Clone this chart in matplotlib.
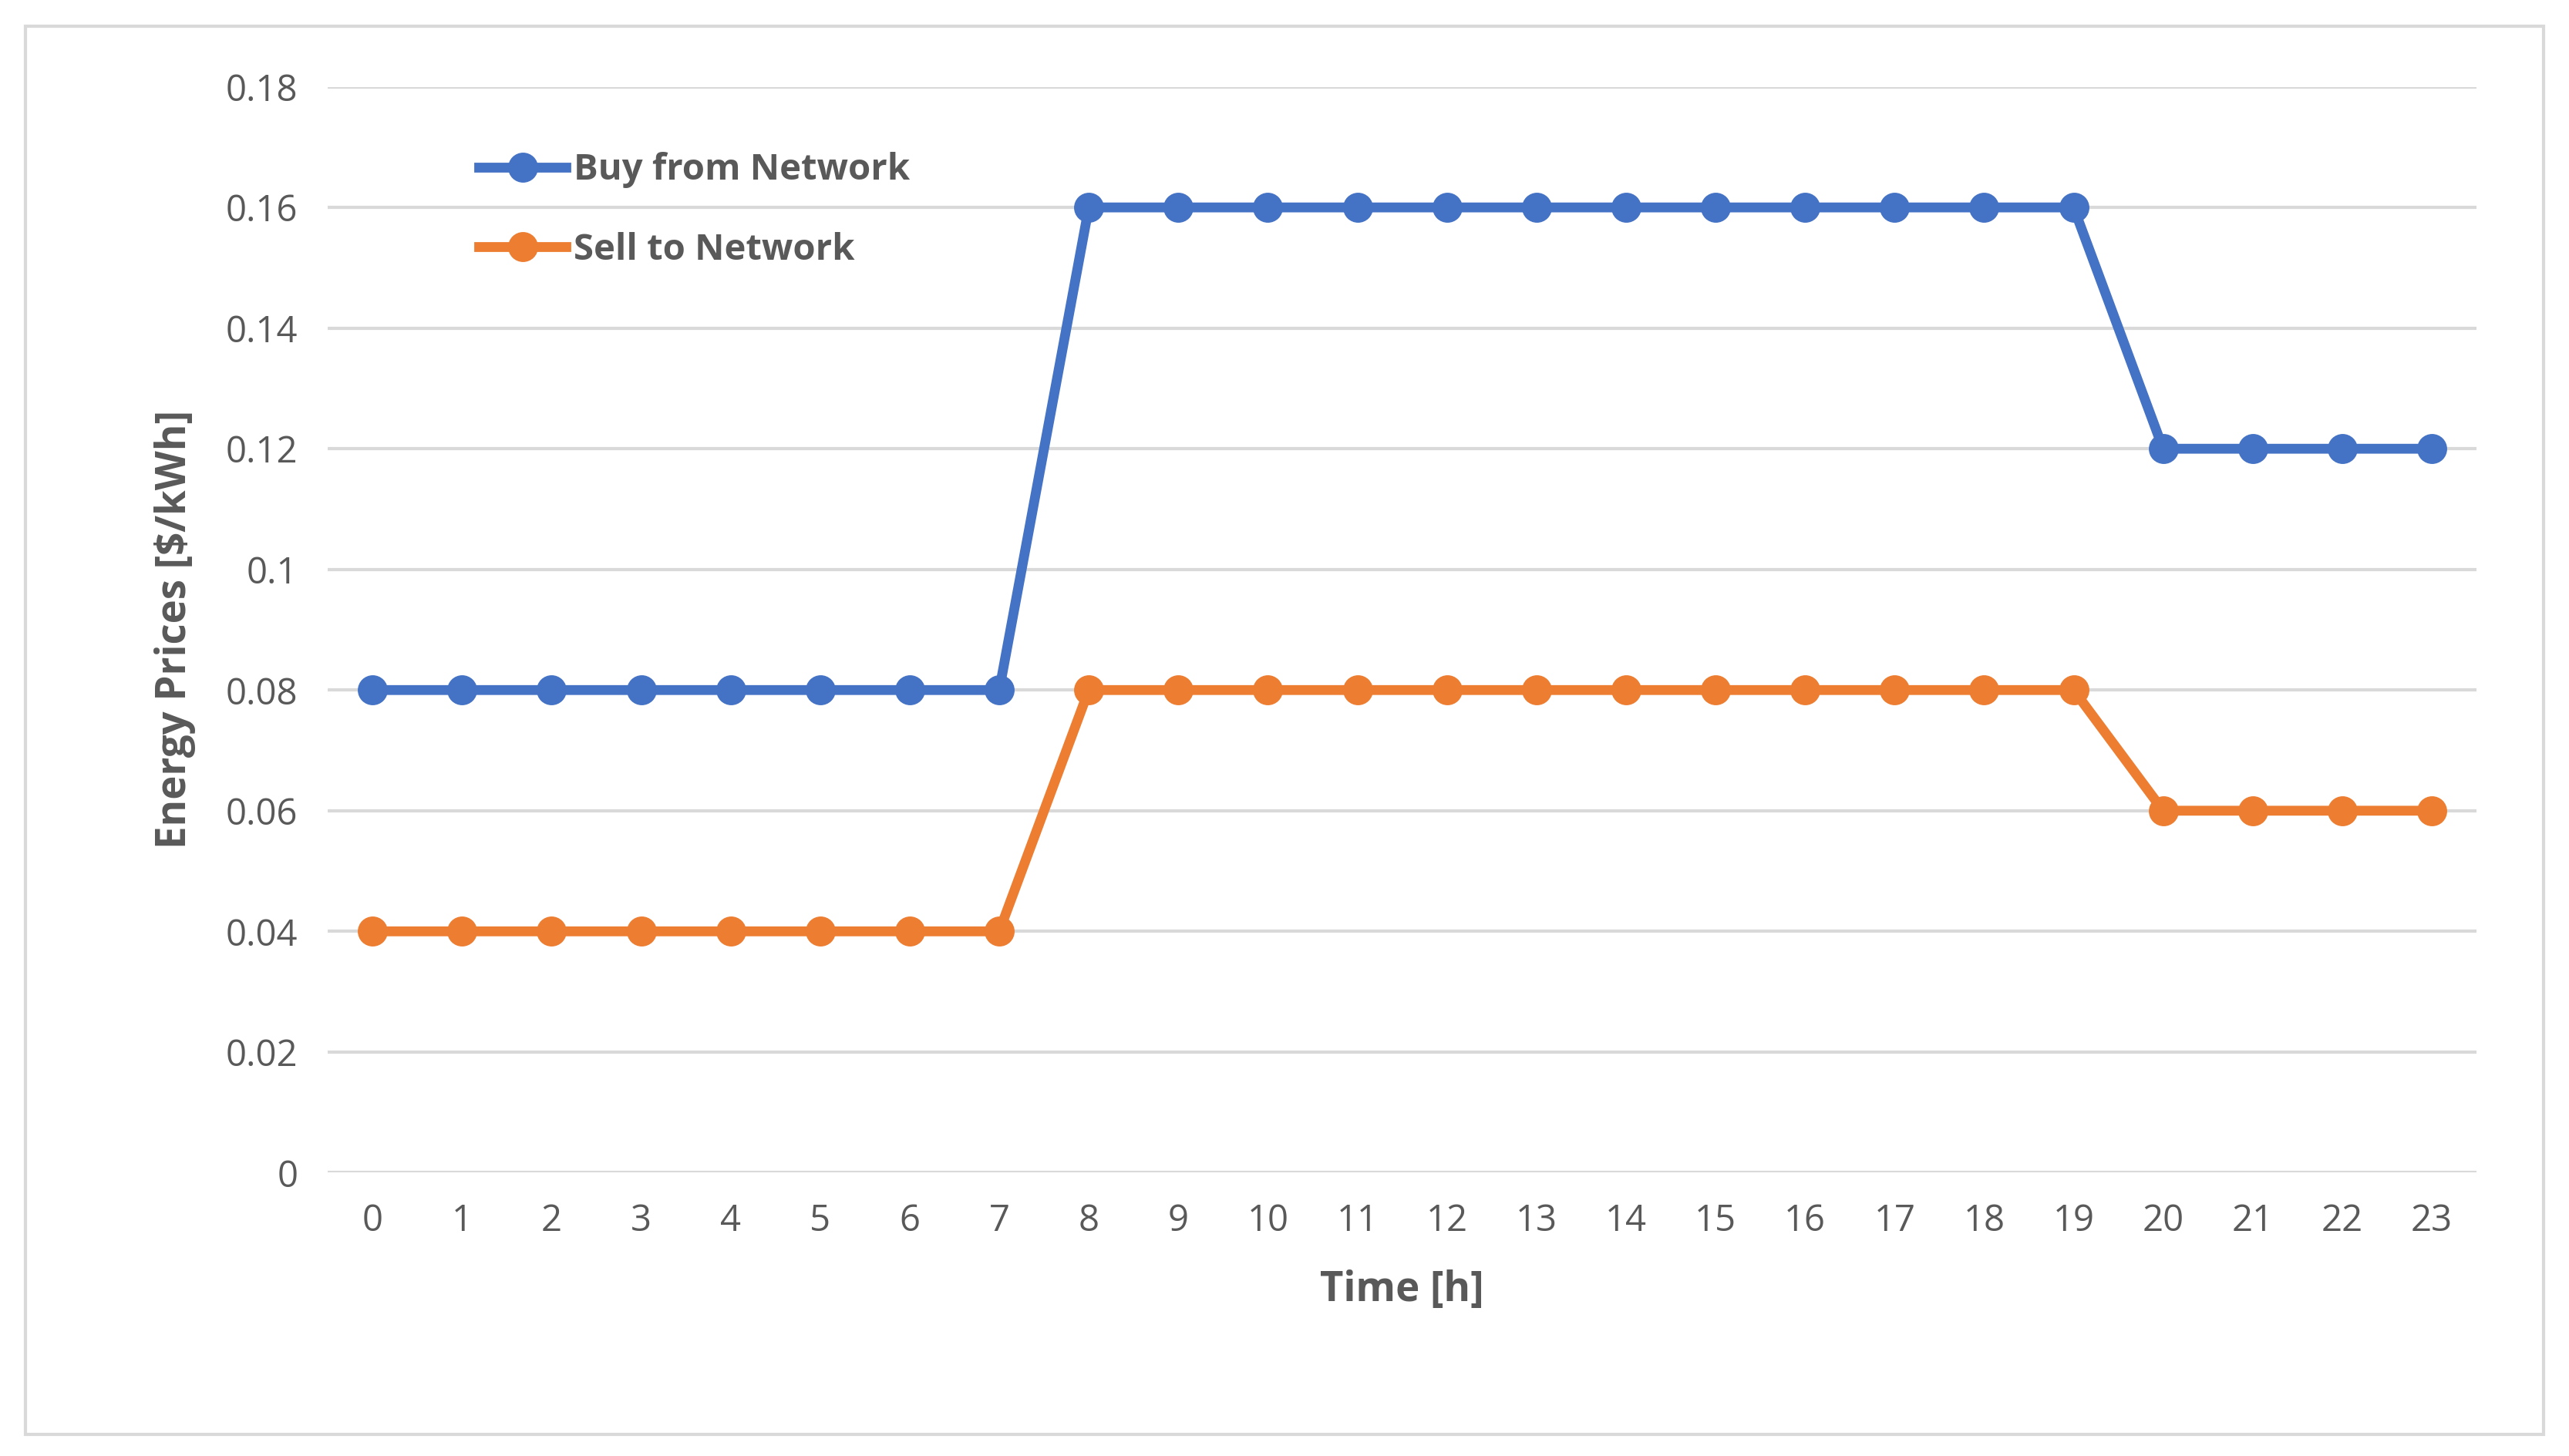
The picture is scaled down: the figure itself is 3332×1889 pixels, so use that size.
import matplotlib
matplotlib.use("Agg")
import matplotlib.pyplot as plt
from matplotlib.patches import Rectangle

hours = list(range(24))
buy = [0.08]*8 + [0.16]*12 + [0.12]*4
sell = [0.04]*8 + [0.08]*12 + [0.06]*4
yticks = [0, 0.02, 0.04, 0.06, 0.08, 0.1, 0.12, 0.14, 0.16, 0.18]
ylabels = ["0", "0.02", "0.04", "0.06", "0.08", "0.1", "0.12", "0.14", "0.16", "0.18"]

plt.rcParams['font.family'] = ['Open Sans', 'DejaVu Sans']
fig = plt.figure(figsize=(16.66, 9.445), dpi=200)
fig.patches.append(Rectangle((0.01, 0.015), 0.98, 0.967, transform=fig.transFigure,
                             fill=False, edgecolor='#d9d9d9', linewidth=1.5))
ax = fig.add_axes([0.1276, 0.1946, 0.8364, 0.7458])
gray = '#595959'
ax.plot(hours, buy, color='#4472C4', lw=4.6, marker='o', ms=13, label='Buy from Network', zorder=3)
ax.plot(hours, sell, color='#ED7D31', lw=4.6, marker='o', ms=13, label='Sell to Network', zorder=3)
ax.set_xlim(-0.5, 23.5)
ax.set_ylim(0, 0.18)
ax.set_yticks(yticks, ylabels)
ax.set_xticks(hours, [str(h) for h in hours])
ax.grid(axis='y', color='#d9d9d9', lw=1.5)
ax.set_axisbelow(True)
for s in ax.spines.values():
    s.set_visible(False)
ax.tick_params(length=0, labelsize=17, labelcolor=gray, pad=14)
ax.set_xlabel('Time [h]', fontsize=19, fontweight='bold', color=gray, labelpad=14)
ax.set_ylabel('Energy Prices [$/kWh]', fontsize=19, fontweight='bold', color=gray, labelpad=14)
leg = ax.legend(loc='upper left', bbox_to_anchor=(0.055, 0.97), frameon=False,
                prop={'size': 17, 'weight': 'bold'}, labelspacing=1.2, handlelength=2.4,
                handletextpad=0.2)
for t in leg.get_texts():
    t.set_color(gray)
fig.savefig('out.png', dpi=200)
